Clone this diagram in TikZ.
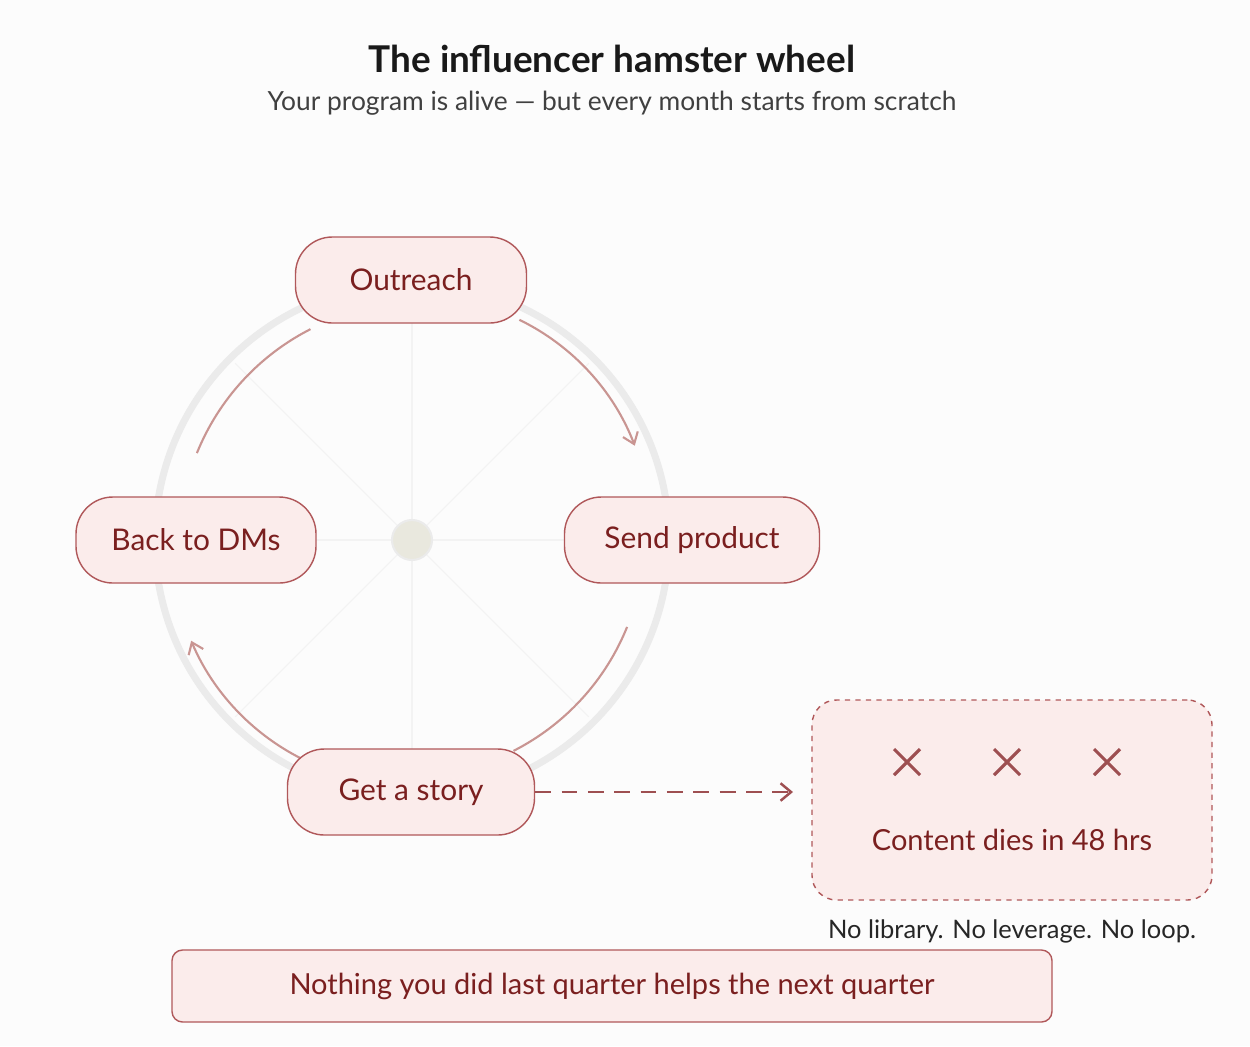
\documentclass[tikz,border=0pt]{standalone}
\usepackage{fontspec}
\setmainfont{Lato}
\usetikzlibrary{arrows.meta}
\definecolor{dred}{HTML}{7A1F1F}
\definecolor{pfill}{HTML}{FBECEB}
\definecolor{pbord}{HTML}{B0585A}
\definecolor{arcc}{HTML}{C99592}
\definecolor{ringc}{HTML}{EBEBEB}
\begin{document}
\begin{tikzpicture}[x=0.02cm,y=-0.02cm,
 pill/.style={draw=pbord,fill=pfill,rounded corners=21pt,minimum height=86*0.02cm,text=dred,font=\fontsize{17}{20}\selectfont,line width=0.8pt},
 arcl/.style={draw=arcc,line width=1.2pt},
 xm/.style={draw=pbord!90!black,line width=1.8pt}]
\useasboundingbox[fill=white!98!gray] (0,0) rectangle (1250,1046);
% wheel
\draw[ringc,line width=4pt] (412,540) circle (257);
\foreach \a in {0,45,...,315}\draw[ringc!60,line width=0.6pt] (412,540) -- ++(\a:250);
\draw[ringc,fill=white!94!yellow!80!gray,line width=1.2pt] (412,540) circle (20);
% arcs
\coordinate (c) at (412,540);
\draw[arcl,-{Straight Barb[length=6pt,width=9pt]}] (c) ++(-64:245) arc[start angle=-64,end angle=-21,radius=233];
\draw[arcl] (c) ++(22:232) arc[start angle=22,end angle=63,radius=240];
\draw[arcl,-{Straight Barb[length=6pt,width=9pt]}] (c) ++(117:245) arc[start angle=117,end angle=157,radius=235];
\draw[arcl] (c) ++(202:232) arc[start angle=202,end angle=243,radius=240];
\node[pill,minimum width=231*0.02cm] (o) at (411,280) {Outreach};
\node[pill,minimum width=240*0.02cm] (b) at (196,540) {Back to DMs};
\node[pill,minimum width=255*0.02cm] (s) at (692,540) {Send product};
\node[pill,minimum width=247*0.02cm] (g) at (411,792) {Get a story};
% dashed box
\node[draw=pbord,fill=pfill,dashed,rounded corners=14pt,minimum width=400*0.02cm,minimum height=200*0.02cm,line width=0.8pt] (d) at (1012,800) {};
\draw[pbord!90!black,line width=1.4pt,dash pattern=on 9pt off 6pt,-{Straight Barb[length=6pt,width=10pt]}] (g.east) -- (793,792) coordinate (de);
\foreach \x in {907,1007,1107}\draw[xm] (\x-13,749) -- (\x+13,775) (\x-13,775) -- (\x+13,749);
\node[text=dred,font=\fontsize{16.5}{20}\selectfont] (ct) at (1012,840) {Content dies in 48 hrs};
\node[text=black!85,font=\fontsize{14.5}{18}\selectfont] (nl) at (1012,931) {No library. No leverage. No loop.};
\node[draw=pbord,fill=pfill,rounded corners=6pt,minimum width=880*0.02cm,minimum height=72*0.02cm,text=dred,font=\fontsize{16.5}{20}\selectfont,line width=0.8pt] (bot) at (612,986) {Nothing you did last quarter helps the next quarter};
\node[font=\bfseries\fontsize{21}{26}\selectfont,text=black!90] (t) at (612,59) {The influencer hamster wheel};
\node[font=\fontsize{15}{18}\selectfont,text=black!75] (st) at (612,103) {Your program is alive — but every month starts from scratch};
\end{tikzpicture}
\end{document}
